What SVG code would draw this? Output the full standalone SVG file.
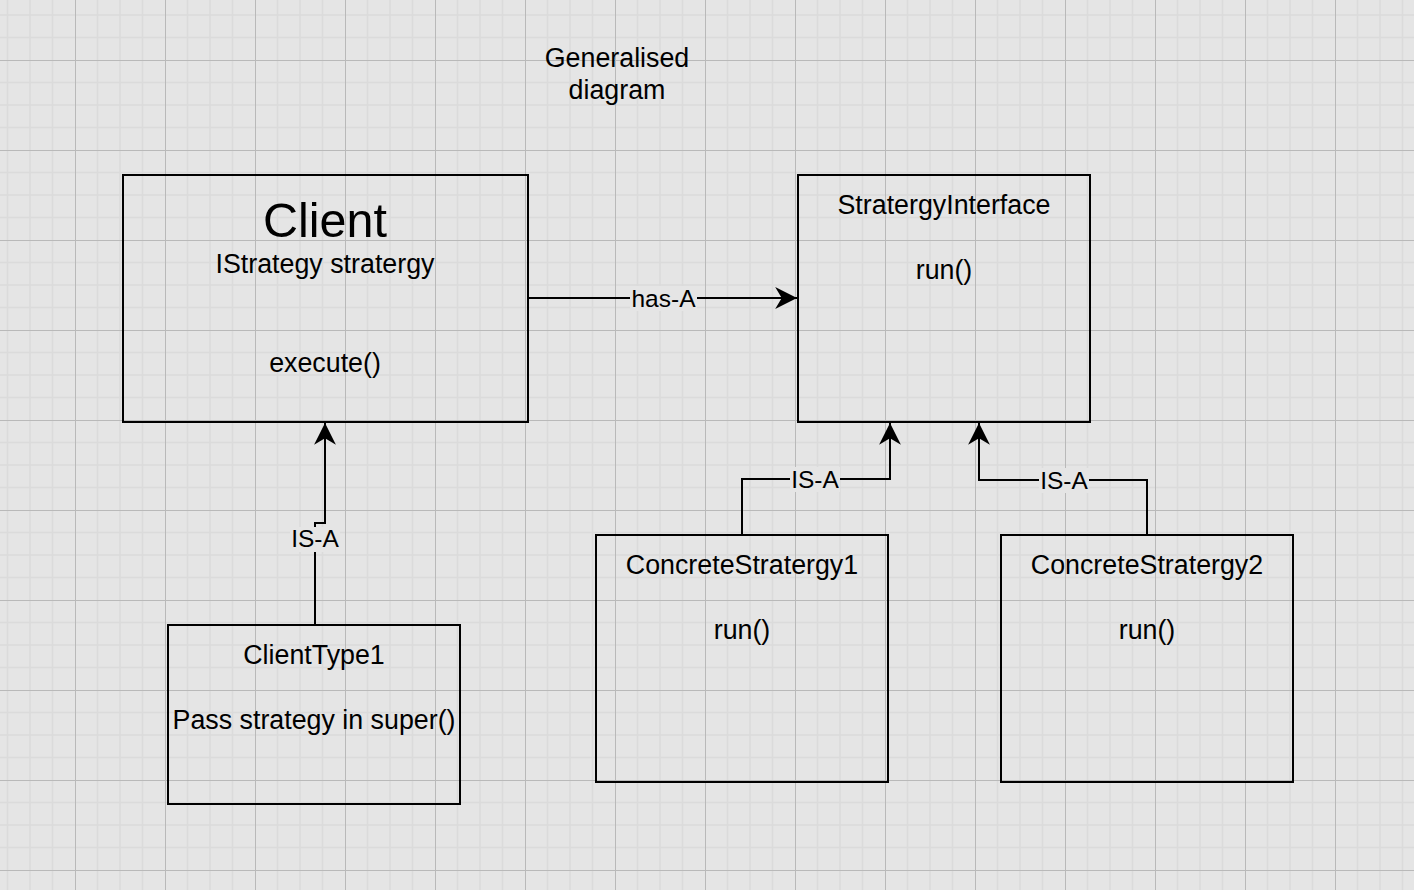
<svg xmlns="http://www.w3.org/2000/svg" width="1414" height="890" viewBox="0 0 1414 890">
<style>
text{font-family:"Liberation Sans",Arial,sans-serif;fill:#000;text-anchor:middle}
.t{font-size:26.8px}
.lbl{font-size:24.5px}
.box{fill:none;stroke:#000;stroke-width:2}
.edge{fill:none;stroke:#000;stroke-width:2}
.lb{fill:#e5e5e5}
</style>
<defs>
<pattern id="grid" patternUnits="userSpaceOnUse" x="75" y="60" width="90" height="90">
<rect width="90" height="90" fill="#e5e5e5"/>
<path d="M22.5,0V90M45,0V90M67.5,0V90M0,22.5H90M0,45H90M0,67.5H90" stroke="#dbdbdb" stroke-width="1.5"/>
<path d="M0.5,0V90M0,0.5H90" stroke="#b9b9b9" stroke-width="1"/>
</pattern>
<marker id="arr" markerUnits="userSpaceOnUse" markerWidth="24" markerHeight="24" viewBox="-21 -11 22 22" refX="0" refY="0" orient="auto">
<path d="M0,0L-20,-10L-14,0L-20,10Z" fill="#000"/>
</marker>
</defs>
<rect width="1414" height="890" fill="url(#grid)"/>

<g id="title">
<text class="t" x="617" y="67">Generalised</text>
<text class="t" x="617" y="99">diagram</text>
</g>

<g id="connectors">
<path class="edge" d="M528,298H797" marker-end="url(#arr)"/>
<rect class="lb" x="630" y="286" width="67" height="25"/>
<text class="lbl" x="663.5" y="307">has-A</text>

<path class="edge" d="M315,625V523H325V423" marker-end="url(#arr)"/>
<rect class="lb" x="290" y="527" width="50" height="25"/>
<text class="lbl" x="315" y="547">IS-A</text>

<path class="edge" d="M742,535V479H890V423" marker-end="url(#arr)"/>
<rect class="lb" x="790" y="467" width="50" height="25"/>
<text class="lbl" x="815" y="488">IS-A</text>

<path class="edge" d="M1147,535V480H979V423" marker-end="url(#arr)"/>
<rect class="lb" x="1039" y="468" width="50" height="25"/>
<text class="lbl" x="1064" y="489">IS-A</text>
</g>

<g id="client">
<rect class="box" x="123" y="175" width="405" height="247"/>
<text x="325" y="237" style="font-size:48.5px">Client</text>
<text class="t" x="325" y="273">IStrategy stratergy</text>
<text class="t" x="325" y="372">execute()</text>
</g>

<g id="strategyInterface">
<rect class="box" x="798" y="175" width="292" height="247"/>
<text class="t" x="944" y="214">StratergyInterface</text>
<text class="t" x="944" y="279">run()</text>
</g>

<g id="concrete1">
<rect class="box" x="596" y="535" width="292" height="247"/>
<text class="t" x="742" y="574">ConcreteStratergy1</text>
<text class="t" x="742" y="639">run()</text>
</g>

<g id="concrete2">
<rect class="box" x="1001" y="535" width="292" height="247"/>
<text class="t" x="1147" y="574">ConcreteStratergy2</text>
<text class="t" x="1147" y="639">run()</text>
</g>

<g id="clientType1">
<rect class="box" x="168" y="625" width="292" height="179"/>
<text class="t" x="314" y="664">ClientType1</text>
<text class="t" x="314" y="729">Pass strategy in super()</text>
</g>
</svg>
